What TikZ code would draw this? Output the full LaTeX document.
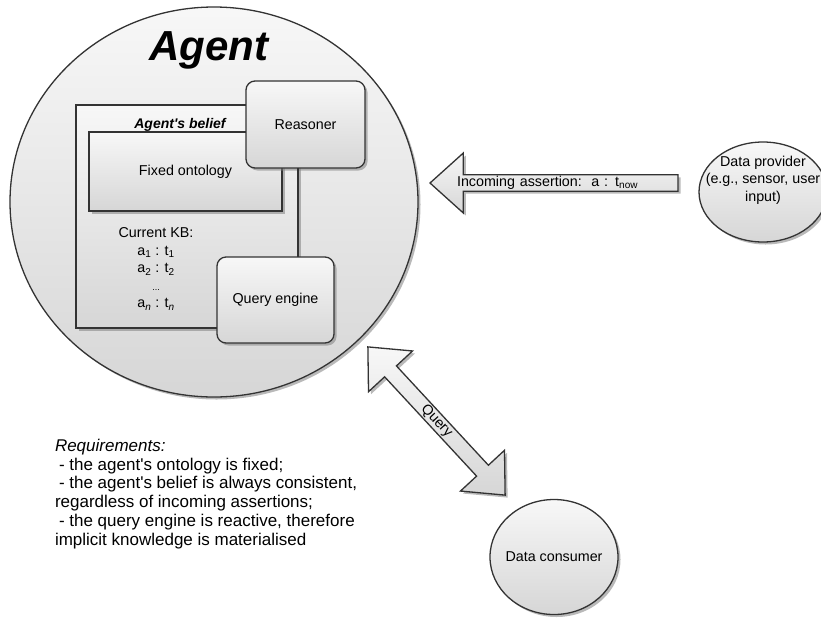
\documentclass[tikz,border=0pt]{standalone}
\usepackage{fontspec}
\newfontfamily\diagfont{Liberation Sans}
\usetikzlibrary{shapes.geometric,shapes.arrows,shadows}

\begin{document}
\begin{tikzpicture}[x=1pt, y=-1pt, outer sep=0pt,
  font=\diagfont\fontsize{14.3}{17.5}\selectfont,
  grayfill/.style={top color=gray!6, bottom color=gray!32, draw=black!80, line width=1.3pt,
    drop shadow={shadow xshift=2.5pt, shadow yshift=-2.5pt, fill=black!50, opacity=.55}},
  bubble/.style={grayfill, ellipse, inner sep=0pt},
  box/.style={grayfill, rectangle, inner sep=0pt},
  unit/.style={grayfill, rectangle, rounded corners=9pt, inner sep=0pt},
  link/.style={draw=black!80, line width=1.3pt}]

\useasboundingbox (0,0) rectangle (821,619);

% the agent
\node[bubble, minimum width=408, minimum height=390] at (214,202) (agent) {};
\node[font=\diagfont\bfseries\itshape\fontsize{42}{42}\selectfont] at (209,50) (title) {Agent};

\node[box, minimum width=222, minimum height=223] at (187,216.5) (belief) {};
\node[font=\diagfont\bfseries\itshape\fontsize{14}{14}\selectfont] at (180,125) (beliefname) {Agent's belief};
\node[box, minimum width=193, minimum height=79] at (185.5,171.5) (onto) {Fixed ontology};

\node[align=center, inner sep=0pt] at (156,269) (kb) {Current KB:\\
  a\textsubscript{1} : t\textsubscript{1}\\
  a\textsubscript{2} : t\textsubscript{2}\\
  {\small ...}\\
  a\textsubscript{\textit{n}} : t\textsubscript{\textit{n}}};

\node[unit, minimum width=119, minimum height=87] at (305.5,124.5) (reasoner) {Reasoner};
\node[unit, minimum width=117, minimum height=86] at (275.5,300) (query) {Query engine};
\draw[link] (reasoner.south -| belief.east) -- (query.north -| belief.east);

% outside
\node[bubble, minimum width=128, minimum height=100,
  label={[align=center, yshift=12pt]center:Data provider\\(e.g., sensor, user\\input)}]
  at (763,192) (provider) {};
\node[bubble, minimum width=128, minimum height=115, label=center:Data consumer]
  at (554,557) (consumer) {};

\node[grayfill, single arrow, shape border rotate=180, single arrow tip angle=84,
  single arrow head extend=19.5pt, minimum width=60, minimum height=248,
  text width=203, align=left, inner xsep=5pt, inner ysep=0pt, anchor=tip]
  at (430,183) (incoming) {Incoming assertion:\ \ a : t\textsubscript{now}};

\node[grayfill, double arrow, rotate=-47.2, double arrow tip angle=84,
  double arrow head extend=19.5pt, minimum width=60, minimum height=202, inner sep=0pt]
  at (436.5,421) (queryarrow) {Query};

%\node at (55,433) (reqs) {};
\node[anchor=north west, align=left, inner sep=0pt,
  font=\diagfont\fontsize{17}{18.8}\selectfont] at (55,439) (reqs)
  {\textit{Requirements:}\\
   \hspace*{4pt}- the agent's ontology is fixed;\\
   \hspace*{4pt}- the agent's belief is always consistent,\\
   regardless of incoming assertions;\\
   \hspace*{4pt}- the query engine is reactive, therefore\\
   implicit knowledge is materialised};

\end{tikzpicture}
\end{document}
